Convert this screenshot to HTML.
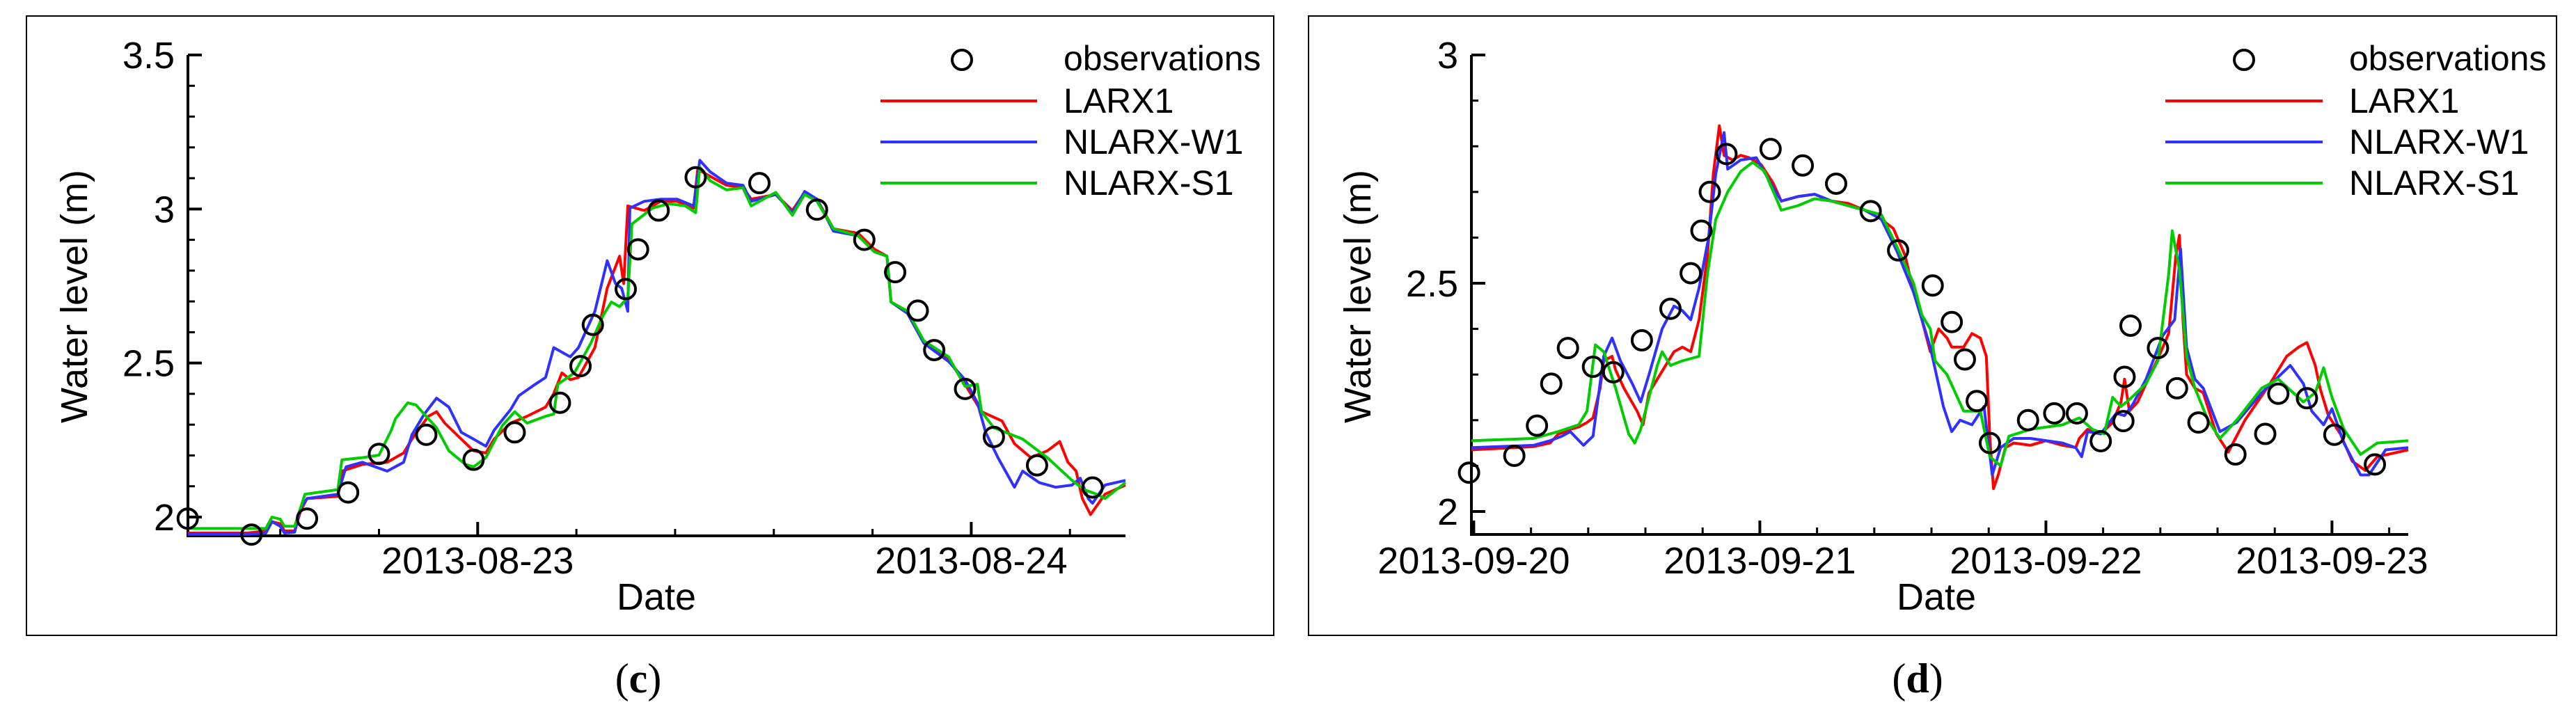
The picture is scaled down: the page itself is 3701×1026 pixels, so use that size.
<!DOCTYPE html>
<html><head><meta charset="utf-8"><style>
html,body{margin:0;padding:0;background:#fff;}
svg{display:block;}
text{font-family:"Liberation Sans",Arial,sans-serif;fill:#000;}
</style></head><body>
<svg id="fig" width="3701" height="1026" viewBox="0 0 3701 1026" xmlns="http://www.w3.org/2000/svg">
<rect x="38" y="23" width="1792" height="890" fill="none" stroke="#000" stroke-width="2"/>
<rect x="1880" y="23" width="1793" height="890" fill="none" stroke="#000" stroke-width="2"/>
<text x="917" y="995" font-size="60" text-anchor="middle" style="font-family:'Liberation Serif',serif">(<tspan font-weight="bold">c</tspan>)</text>
<text x="2755" y="995" font-size="60" text-anchor="middle" style="font-family:'Liberation Serif',serif">(<tspan font-weight="bold">d</tspan>)</text>
<g id="pc"></g>
<g id="pd"></g>
</svg>
<script>
// ---- Panel (c): hours since 2013-08-22 00:00 ----
const cObsT = [9.9,13.0,15.7,17.7,19.2,21.5,23.8,25.8,28.0,29.0,29.6,31.2,31.8,32.8,34.6,37.7,40.5,42.8,44.3,45.4,46.2,47.7,49.1,51.2,53.9];
const cObsV = [1.995,1.943,1.995,2.08,2.205,2.267,2.186,2.275,2.371,2.49,2.624,2.74,2.869,2.995,3.103,3.084,2.998,2.90,2.795,2.67,2.542,2.416,2.26,2.168,2.096];
const cRedT = [9.9,12.8,13.7,14.0,14.4,14.6,15.1,15.4,15.7,17.2,17.4,18.4,19.6,20.4,20.8,21.6,22.0,22.4,23.2,23.8,24.4,24.8,25.6,26.4,27.3,27.7,28.1,28.5,28.9,29.7,30.3,30.9,31.1,31.3,32.1,32.9,33.7,34.5,34.7,35.3,36.1,36.9,37.3,38.5,39.3,39.9,40.5,41.3,42.5,43.3,43.9,44.1,44.9,45.7,46.9,47.7,48.5,49.5,50.1,50.9,51.7,52.3,52.7,53.1,53.4,53.8,54.5,55.5];
const cRedV = [1.948,1.948,1.955,1.985,1.978,1.955,1.955,2.022,2.06,2.067,2.149,2.171,2.178,2.208,2.253,2.327,2.342,2.305,2.253,2.215,2.208,2.253,2.305,2.327,2.357,2.401,2.468,2.446,2.453,2.55,2.743,2.847,2.758,3.01,2.995,3.025,3.025,3.003,3.129,3.106,3.077,3.069,3.032,3.047,2.995,3.054,3.032,2.936,2.921,2.869,2.847,2.698,2.668,2.564,2.512,2.431,2.342,2.312,2.238,2.193,2.215,2.245,2.178,2.149,2.06,2.008,2.074,2.104];
const cBlueT = [9.9,12.8,13.7,14.0,14.4,14.6,15.1,15.4,15.7,17.2,17.6,18.4,19.6,20.4,20.8,21.4,22.0,22.6,23.2,23.8,24.4,24.8,25.6,26.0,26.8,27.3,27.7,28.5,28.9,29.7,30.3,30.7,31.0,31.3,31.4,32.1,32.9,33.7,34.5,34.8,35.3,36.1,36.9,37.3,38.5,39.3,39.9,40.5,41.3,42.5,43.3,43.9,44.1,44.9,45.7,46.9,47.7,48.3,48.7,49.3,50.1,50.5,51.3,52.1,52.9,53.3,53.7,53.9,54.5,55.5];
const cBlueV = [1.944,1.944,1.948,1.985,1.97,1.948,1.951,2.03,2.06,2.074,2.163,2.178,2.149,2.178,2.267,2.334,2.386,2.357,2.275,2.253,2.23,2.282,2.349,2.394,2.431,2.453,2.55,2.52,2.55,2.668,2.832,2.758,2.743,2.668,3.003,3.025,3.032,3.032,3.01,3.158,3.121,3.084,3.077,3.025,3.047,2.988,3.057,3.032,2.928,2.913,2.861,2.847,2.698,2.661,2.564,2.505,2.446,2.371,2.275,2.193,2.097,2.149,2.112,2.097,2.104,2.126,2.059,2.045,2.104,2.119];
const cGreenT = [9.9,12.8,13.7,14.0,14.4,14.6,15.1,15.6,17.2,17.4,18.4,19.2,19.8,20.0,20.6,21.0,21.4,22.0,22.6,23.4,23.8,24.4,25.2,25.8,26.4,27.3,27.7,27.9,28.7,29.5,30.1,30.5,30.9,31.3,31.5,32.5,33.3,34.1,34.6,34.8,35.3,36.1,36.9,37.3,38.5,39.3,39.9,40.5,41.3,42.5,43.3,43.9,44.1,44.9,45.7,46.9,47.7,48.3,48.5,49.1,50.5,51.7,52.9,53.5,54.1,54.5,55.5];
const cGreenV = [1.963,1.963,1.963,2.0,1.993,1.97,1.97,2.074,2.089,2.186,2.193,2.201,2.282,2.319,2.371,2.364,2.334,2.29,2.215,2.171,2.163,2.193,2.297,2.342,2.305,2.327,2.334,2.431,2.468,2.564,2.654,2.698,2.683,2.713,2.951,3.003,3.017,3.01,2.988,3.136,3.092,3.062,3.069,3.01,3.054,2.98,3.047,3.025,2.936,2.913,2.861,2.847,2.698,2.668,2.572,2.52,2.424,2.431,2.342,2.29,2.253,2.193,2.119,2.089,2.074,2.060,2.112];

// ---- Panel (d): hours since 2013-09-20 00:00 ----
const dObsT = [-0.4,3.4,5.3,6.5,7.9,10.0,11.7,14.1,16.5,18.2,19.1,19.8,21.2,24.9,27.6,30.4,33.3,35.6,38.5,40.1,41.2,42.2,43.3,46.5,48.7,50.6,52.6,54.5,54.6,55.1,57.4,59.0,60.8,63.9,66.4,67.5,69.9,72.2,75.6];
const dObsV = [2.085,2.122,2.188,2.28,2.358,2.317,2.305,2.375,2.444,2.522,2.615,2.70,2.783,2.794,2.758,2.718,2.658,2.572,2.495,2.415,2.333,2.242,2.15,2.20,2.215,2.215,2.154,2.198,2.295,2.407,2.358,2.27,2.195,2.125,2.17,2.258,2.248,2.168,2.103];
const dRedT = [-0.2,5.0,6.4,7.1,7.8,8.1,8.8,9.5,10.0,10.6,10.9,11.6,11.9,12.6,13.7,14.2,14.7,15.4,16.1,16.8,17.5,18.2,18.9,19.6,20.1,20.6,21.0,21.7,22.4,23.1,24.1,25.1,25.8,27.2,28.6,30.0,31.4,32.8,34.2,35.2,36.2,36.9,37.6,38.3,39.0,39.7,40.1,41.1,41.8,42.5,43.0,43.3,43.6,44.0,44.6,45.3,46.7,48.0,49.4,50.5,50.8,51.5,52.6,53.6,54.3,54.6,55.0,55.7,56.4,57.4,58.3,58.9,59.2,59.5,59.8,60.5,61.2,62.3,63.3,64.7,66.8,68.2,69.2,69.9,70.6,71.0,71.7,72.7,73.7,74.8,75.8,78.4];
const dRedV = [2.135,2.142,2.15,2.17,2.175,2.18,2.185,2.195,2.205,2.27,2.33,2.34,2.31,2.27,2.22,2.19,2.26,2.29,2.32,2.35,2.36,2.35,2.42,2.56,2.74,2.845,2.78,2.77,2.78,2.775,2.76,2.72,2.68,2.69,2.695,2.68,2.675,2.66,2.64,2.62,2.56,2.48,2.42,2.35,2.40,2.38,2.36,2.36,2.39,2.38,2.34,2.16,2.05,2.08,2.14,2.15,2.145,2.155,2.145,2.14,2.16,2.18,2.17,2.195,2.24,2.29,2.22,2.24,2.28,2.335,2.39,2.56,2.605,2.42,2.30,2.27,2.26,2.17,2.13,2.20,2.28,2.34,2.36,2.37,2.32,2.27,2.21,2.17,2.11,2.09,2.12,2.135];
const dBlueT = [-0.2,5.0,6.4,7.4,8.1,9.2,10.0,10.9,11.6,12.3,13.3,14.0,14.7,15.8,16.8,17.5,18.2,18.9,19.7,20.3,21.0,21.3,22.4,23.7,25.1,25.8,27.2,28.6,30.0,31.4,32.8,34.2,35.5,36.9,38.3,39.4,40.1,40.8,41.8,42.8,43.5,44.2,45.3,46.7,49.4,50.5,51.0,51.5,52.6,53.9,54.6,55.3,56.4,57.8,58.8,59.3,59.8,60.5,61.2,62.6,64.0,66.1,68.5,69.6,70.3,71.3,72.0,73.0,74.4,75.1,76.5,78.4];
const dBlueV = [2.14,2.145,2.155,2.165,2.175,2.145,2.165,2.34,2.38,2.33,2.28,2.24,2.30,2.40,2.45,2.44,2.42,2.49,2.60,2.74,2.83,2.75,2.77,2.775,2.71,2.68,2.69,2.695,2.68,2.67,2.66,2.64,2.57,2.48,2.36,2.23,2.175,2.20,2.19,2.23,2.08,2.14,2.16,2.16,2.15,2.14,2.12,2.175,2.17,2.215,2.21,2.235,2.29,2.385,2.42,2.575,2.36,2.29,2.27,2.175,2.195,2.26,2.32,2.28,2.22,2.19,2.225,2.15,2.08,2.08,2.135,2.14];
const dGreenT = [-0.2,5.0,7.1,8.8,9.5,10.2,10.9,11.9,13.0,13.5,14.0,15.4,15.8,16.5,17.5,18.9,19.6,20.3,21.3,22.4,23.4,24.4,25.8,27.2,28.6,30.0,31.4,32.8,34.2,35.5,36.9,37.6,38.3,38.7,39.7,41.1,42.5,43.3,44.2,44.9,46.7,49.4,50.8,51.9,52.9,53.6,54.3,55.0,56.4,57.4,58.3,58.6,59.2,59.8,60.5,61.6,62.6,64.0,66.1,67.5,69.6,70.6,71.3,72.0,73.0,74.4,75.8,78.4];
const dGreenV = [2.155,2.16,2.175,2.19,2.22,2.365,2.35,2.27,2.17,2.15,2.18,2.32,2.35,2.32,2.33,2.34,2.52,2.64,2.70,2.745,2.765,2.745,2.66,2.67,2.685,2.68,2.67,2.66,2.65,2.58,2.50,2.43,2.40,2.33,2.30,2.22,2.22,2.12,2.10,2.165,2.18,2.19,2.205,2.18,2.17,2.25,2.23,2.245,2.28,2.33,2.52,2.615,2.53,2.34,2.27,2.20,2.16,2.20,2.27,2.29,2.24,2.26,2.315,2.25,2.18,2.125,2.15,2.155];

const cXTickLabels = ["2013-08-23","2013-08-24"];
const cXTickHours = [24,48];
const cYTickLabels = ["2","2.5","3","3.5"];
const cYTickVals = [2,2.5,3,3.5];
const dXTickLabels = ["2013-09-20","2013-09-21","2013-09-22","2013-09-23"];
const dXTickHours = [0,24,48,72];
const dYTickLabels = ["2","2.5","3"];
const dYTickVals = [2,2.5,3];

const NS = "http://www.w3.org/2000/svg";
function mk(parent, tag, attrs){
  const e = document.createElementNS(NS, tag);
  for (const k in attrs) e.setAttribute(k, attrs[k]);
  parent.appendChild(e);
  return e;
}

function panel(g, cfg){
  const sx = h => cfg.x0 + (h - cfg.h0) / (cfg.h1 - cfg.h0) * (cfg.x1 - cfg.x0);
  const sy = v => cfg.yA + (cfg.vA - v) / (cfg.vA - cfg.vB) * (cfg.yB - cfg.yA);
  for (let h = cfg.minorStart; h <= cfg.h1; h += 4.8) {
    const t = mk(g, 'line', {x1:sx(h), x2:sx(h), y1:cfg.yBot, y2:cfg.yBot-10, stroke:'#000','stroke-width':3});
    
    
  }
  cfg.xTickHours.forEach((h, i) => {
    const t = mk(g, 'line', {x1:sx(h), x2:sx(h), y1:cfg.yBot, y2:cfg.yBot-20, stroke:'#000','stroke-width':4});
    
    
    const l = mk(g, 'text', {x:sx(h), y:824, 'font-size':54, 'text-anchor':'middle'});
    l.textContent = cfg.xTickLabels[i];
    
    
  });
  for (let k = 0; ; k++) {
    const v = cfg.yMinorStart + k * 0.1;
    if (v > cfg.vA + 1e-6) break;
    const t = mk(g, 'line', {x1:cfg.x0, x2:cfg.x0+10, y1:sy(v), y2:sy(v), stroke:'#000','stroke-width':3});
    
    
  }
  cfg.yTickVals.forEach((v, i) => {
    const t = mk(g, 'line', {x1:cfg.x0, x2:cfg.x0+20, y1:sy(v), y2:sy(v), stroke:'#000','stroke-width':4});
    
    
    const l = mk(g, 'text', {x:cfg.x0-19, y:sy(v)+19, 'font-size':54, 'text-anchor':'end'});
    l.textContent = cfg.yTickLabels[i];
    
    
  });
  const ax = mk(g, 'path', {d:`M${cfg.x0},79 L${cfg.x0},${cfg.yBot} L${cfg.x1},${cfg.yBot}`, fill:'none', stroke:'#000', 'stroke-width':4});
  
  
  cfg.series.forEach(s => {
    const d = s.t.map((h, i) => (i ? 'L' : 'M') + sx(h).toFixed(1) + ',' + sy(s.v[i]).toFixed(1)).join(' ');
    const p = mk(g, 'path', {d:d, fill:'none', stroke:s.color, 'stroke-width':4, 'stroke-linejoin':'round'});
    
    
  });
  cfg.obsT.forEach((h, i) => {
    const c = mk(g, 'ellipse', {cx:sx(h), cy:sy(cfg.obsV[i]), rx:14, ry:14, fill:'none', stroke:'#000', 'stroke-width':4});
    
    
  });
  const yt = mk(g, 'text', {x:0, y:0, 'font-size':54, 'text-anchor':'middle', transform:`translate(${cfg.ytX},426) rotate(-90)`});
  yt.textContent = 'Water level (m)';
  
  
  const xt = mk(g, 'text', {x:cfg.dateX, y:876, 'font-size':54, 'text-anchor':'middle'});
  xt.textContent = 'Date';
  
  
  const lg = mk(g, 'g', {});
  
  
  const oc = mk(lg, 'ellipse', {cx:cfg.legC, cy:86, rx:14, ry:14, fill:'none', stroke:'#000','stroke-width':4});
  
  
  const ot = mk(lg, 'text', {x:cfg.legT, y:101, 'font-size':50});
  ot.textContent = 'observations';
  
  
  const rows = [145, 204, 263];
  cfg.series.forEach((s, i) => {
    const ln = mk(lg, 'line', {x1:cfg.legL0, x2:cfg.legL1, y1:rows[i], y2:rows[i], stroke:s.color, 'stroke-width':4});
    
    
    const tx = mk(lg, 'text', {x:cfg.legT, y:rows[i]+17, 'font-size':50});
    tx.textContent = s.label;
    
    
  });
}

panel(document.getElementById('pc'), {
  x0:270, x1:1617, h0:9.91, h1:55.5, yA:79, vA:3.5, yB:743, vB:2.0, yBot:770,
  minorStart:14.4, yMinorStart:2.0,
  xTickHours:cXTickHours, xTickLabels:cXTickLabels, yTickVals:cYTickVals, yTickLabels:cYTickLabels,
  obsT:cObsT, obsV:cObsV,
  series:[{name:'larx1',label:'LARX1',color:'#ff0000',t:cRedT,v:cRedV},
          {name:'nlarx-w1',label:'NLARX-W1',color:'#3030ff',t:cBlueT,v:cBlueV},
          {name:'nlarx-s1',label:'NLARX-S1',color:'#00cc00',t:cGreenT,v:cGreenV}],
  ytX:125, dateX:943, legC:1382, legT:1528, legL0:1265, legL1:1490
});
panel(document.getElementById('pd'), {
  x0:2114, x1:3460, h0:-0.2, h1:78.4, yA:79, vA:3.0, yB:735, vB:2.0, yBot:768,
  minorStart:4.8, yMinorStart:2.0,
  xTickHours:dXTickHours, xTickLabels:dXTickLabels, yTickVals:dYTickVals, yTickLabels:dYTickLabels,
  obsT:dObsT, obsV:dObsV,
  series:[{name:'larx1',label:'LARX1',color:'#ff0000',t:dRedT,v:dRedV},
          {name:'nlarx-w1',label:'NLARX-W1',color:'#3030ff',t:dBlueT,v:dBlueV},
          {name:'nlarx-s1',label:'NLARX-S1',color:'#00cc00',t:dGreenT,v:dGreenV}],
  ytX:1969, dateX:2782, legC:3224, legT:3375, legL0:3111, legL1:3337
});
</script>
</body></html>
